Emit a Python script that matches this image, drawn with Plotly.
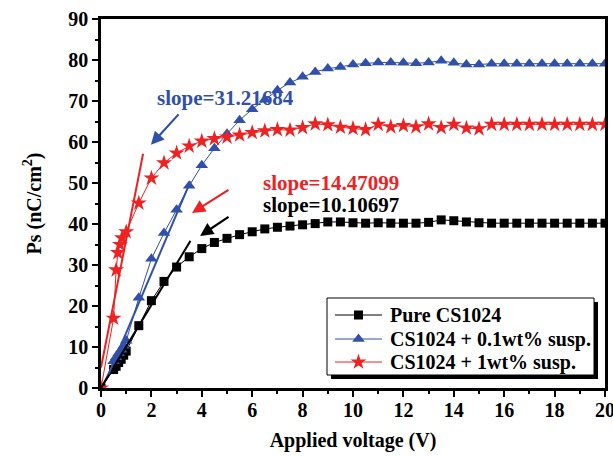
import plotly.graph_objects as go

# ---- data ----
x_pure = [0, 0.5, 0.6, 0.7, 0.8, 0.9, 1.0, 1.5, 2.0, 2.5, 3.0, 3.5, 4.0, 4.5, 5.0, 5.5, 6.0, 6.5, 7.0, 7.5,
          8.0, 8.5, 9.0, 9.5, 10.0, 10.5, 11.0, 11.5, 12.0, 12.5, 13.0, 13.5, 14.0, 14.5, 15.0, 15.5,
          16.0, 16.5, 17.0, 17.5, 18.0, 18.5, 19.0, 19.5, 20.0]
y_pure = [0, 4.5, 5.3, 6.2, 7.0, 8.0, 9.0, 15.2, 21.3, 26.0, 29.5, 32.0, 34.0, 35.5, 36.5, 37.4, 38.1, 38.8,
          39.2, 39.5, 39.8, 40.1, 40.5, 40.5, 40.3, 40.2, 40.3, 40.2, 40.2, 40.2, 40.4, 41.0, 40.8, 40.5,
          40.3, 40.2, 40.2, 40.2, 40.2, 40.2, 40.2, 40.2, 40.2, 40.2, 40.2]

x_01 = [0, 0.5, 0.6, 0.7, 0.8, 0.9, 1.0, 1.5, 2.0, 2.5, 3.0, 3.5, 4.0, 4.5, 5.0, 5.5, 6.0, 6.5, 7.0, 7.5,
        8.0, 8.5, 9.0, 9.5, 10.0, 10.5, 11.0, 11.5, 12.0, 12.5, 13.0, 13.5, 14.0, 14.5, 15.0, 15.5,
        16.0, 16.5, 17.0, 17.5, 18.0, 18.5, 19.0, 19.5, 20.0]
y_01 = [0, 6.5, 7.5, 8.5, 9.3, 10.3, 11.5, 22.0, 31.5, 37.8, 43.5, 49.3, 54.3, 58.5, 62.0, 65.3, 68.0, 70.3,
        72.6, 74.5, 75.9, 77.1, 77.9, 78.3, 78.9, 79.2, 79.4, 79.4, 79.3, 79.2, 79.4, 79.8, 79.3, 78.9,
        78.9, 79.1, 79.1, 79.1, 79.1, 79.1, 79.1, 79.1, 79.1, 79.1, 79.1]

x_1 = [0, 0.5, 0.6, 0.67, 0.75, 0.83, 1.0, 1.5, 2.0, 2.5, 3.0, 3.5, 4.0, 4.5, 5.0, 5.5, 6.0, 6.5, 7.0, 7.5,
       8.0, 8.5, 9.0, 9.5, 10.0, 10.5, 11.0, 11.5, 12.0, 12.5, 13.0, 13.5, 14.0, 14.5, 15.0, 15.5,
       16.0, 16.5, 17.0, 17.5, 18.0, 18.5, 19.0, 19.5, 20.0]
y_1 = [0, 17.0, 28.8, 33.0, 35.0, 36.6, 38.1, 45.1, 51.2, 54.9, 57.3, 59.0, 60.2, 60.8, 61.2, 61.7, 62.3,
       62.7, 63.0, 62.9, 63.5, 64.4, 64.2, 63.6, 63.3, 63.0, 64.3, 63.7, 64.0, 63.7, 64.4, 63.5, 64.3,
       63.4, 63.2, 64.3, 64.3, 64.3, 64.3, 64.3, 64.3, 64.3, 64.3, 64.3, 64.3]

names = ["Pure CS1024", "CS1024 + 0.1wt% susp.", "CS1024 + 1wt% susp."]

# linear fits: slope, intercept, x-range (black, blue, red)
slopes = [10.10697, 14.47099, 31.21684]
intercepts = [0.0, -1.0, 5.0]
fit_ranges = [[0.0, 3.55], [0.3, 3.55], [0.0, 1.67]]

slope_labels = ["slope=10.10697", "slope=14.47099", "slope=31.21684"]
label_pos = [[6.35, 44.6], [6.35, 50.0], [2.14, 70.7]]
arrow_heads = [[3.93, 37.1], [3.61, 42.7], [1.98, 59.3]]
arrow_tails = [[30, -20], [38, -24], [29, -32]]

# ---- styling ----
BLACK = "#000000"
BLUE = "#3050aa"
RED = "#ee2222"
colors = [BLACK, BLUE, RED]
label_colors = [BLACK, RED, BLUE]
symbols = ["square", "triangle-up", "star"]
msizes = [9, 11, 12]
FONT = "Liberation Serif, Times New Roman, serif"

W, H = 613, 456
ML, MR, MT, MB = 101, 8, 19, 68
PW, PH = W - ML - MR, H - MT - MB


def px_x(p):
    return (p - ML) / PW


def px_y(p):
    return (H - MB - p) / PH


fig = go.Figure()

series = [(x_pure, y_pure), (x_01, y_01), (x_1, y_1)]
for (xs, ys), nm, c, s, ms in zip(series, names, colors, symbols, msizes):
    fig.add_trace(go.Scatter(
        x=xs, y=ys, name=nm, mode="lines+markers",
        line=dict(color=c, width=1),
        marker=dict(symbol=s, size=ms, color=c, line=dict(width=0)),
        showlegend=False,
    ))

for sl, b, rg, c in zip(slopes, intercepts, fit_ranges, colors):
    fig.add_trace(go.Scatter(
        x=rg, y=[sl * v + b for v in rg], mode="lines",
        line=dict(color=c, width=2), showlegend=False, hoverinfo="skip",
    ))

annotations = []
for txt, pos, c in zip(slope_labels, label_pos, label_colors):
    annotations.append(dict(x=pos[0], y=pos[1], xref="x", yref="y", text=txt, showarrow=False,
                            xanchor="left", yanchor="middle",
                            font=dict(family=FONT, size=21, color=c, weight="bold")))
for head, tail, c in zip(arrow_heads, arrow_tails, label_colors):
    annotations.append(dict(x=head[0], y=head[1], xref="x", yref="y", text="", showarrow=True,
                            ax=tail[0], ay=tail[1], arrowhead=2, arrowsize=1.2, arrowwidth=2.2,
                            arrowcolor=c))

# ---- hand-made legend with drop shadow ----
leg_left, leg_right, leg_top, leg_bottom = 327, 594, 298, 375
shadow = 4
row_y = [315, 339, 362]
sw_x0, sw_x1, txt_x = 335, 382, 388

shapes = [
    dict(type="rect", xref="paper", yref="paper",
         x0=px_x(leg_left + shadow), x1=px_x(leg_right + shadow),
         y0=px_y(leg_bottom + shadow), y1=px_y(leg_top + shadow),
         fillcolor="black", line=dict(width=0), layer="below"),
    dict(type="rect", xref="paper", yref="paper",
         x0=px_x(leg_left), x1=px_x(leg_right), y0=px_y(leg_bottom), y1=px_y(leg_top),
         fillcolor="white", line=dict(color="black", width=1), layer="below"),
]
for ry, nm, c, s, ms in zip(row_y, names, colors, symbols, msizes):
    fig.add_trace(go.Scatter(
        x=[px_x(sw_x0), px_x(sw_x1)], y=[px_y(ry), px_y(ry)], mode="lines",
        line=dict(color=c, width=1), xaxis="x2", yaxis="y2",
        showlegend=False, hoverinfo="skip"))
    fig.add_trace(go.Scatter(
        x=[px_x((sw_x0 + sw_x1) / 2)], y=[px_y(ry)], mode="markers",
        marker=dict(symbol=s, size=ms, color=c, line=dict(width=0)), xaxis="x2", yaxis="y2",
        showlegend=False, hoverinfo="skip"))
    annotations.append(dict(x=px_x(txt_x), y=px_y(ry), xref="paper", yref="paper", text=nm,
                            showarrow=False, xanchor="left", yanchor="middle",
                            font=dict(family=FONT, size=20, color="black", weight="bold")))

axis_common = dict(
    showline=True, linecolor="black", linewidth=2.5, mirror=True,
    ticks="outside", ticklen=6, tickwidth=2, tickcolor="black",
    showgrid=False, zeroline=False, automargin=False,
    tickfont=dict(family=FONT, size=20, color="black", weight="bold"),
)

fig.update_layout(
    width=W, height=H,
    margin=dict(l=ML, r=MR, t=MT, b=MB),
    paper_bgcolor="white", plot_bgcolor="white",
    xaxis=dict(range=[0, 20], dtick=2, tick0=0, ticklabeloverflow="allow", ticklabelstandoff=-4,
               minor=dict(dtick=1, ticklen=3, tickwidth=2, tickcolor="black", ticks="outside"),
               title=dict(text="Applied voltage (V)", standoff=14,
                          font=dict(family=FONT, size=20, color="black", weight="bold")),
               **axis_common),
    yaxis=dict(range=[0, 90], dtick=10, tick0=0,
               minor=dict(dtick=5, ticklen=3, tickwidth=2, tickcolor="black", ticks="outside"),
               title=dict(text="Ps (nC/cm<sup>2</sup>)", standoff=22,
                          font=dict(family=FONT, size=20, color="black", weight="bold")),
               **axis_common),
    xaxis2=dict(overlaying="x", range=[0, 1], visible=False, fixedrange=True),
    yaxis2=dict(overlaying="y", range=[0, 1], visible=False, fixedrange=True),
    annotations=annotations,
    shapes=shapes,
    showlegend=False,
)

fig.write_html("out.html", config={"displayModeBar": False},
               post_script="document.body.style.margin='0';")
